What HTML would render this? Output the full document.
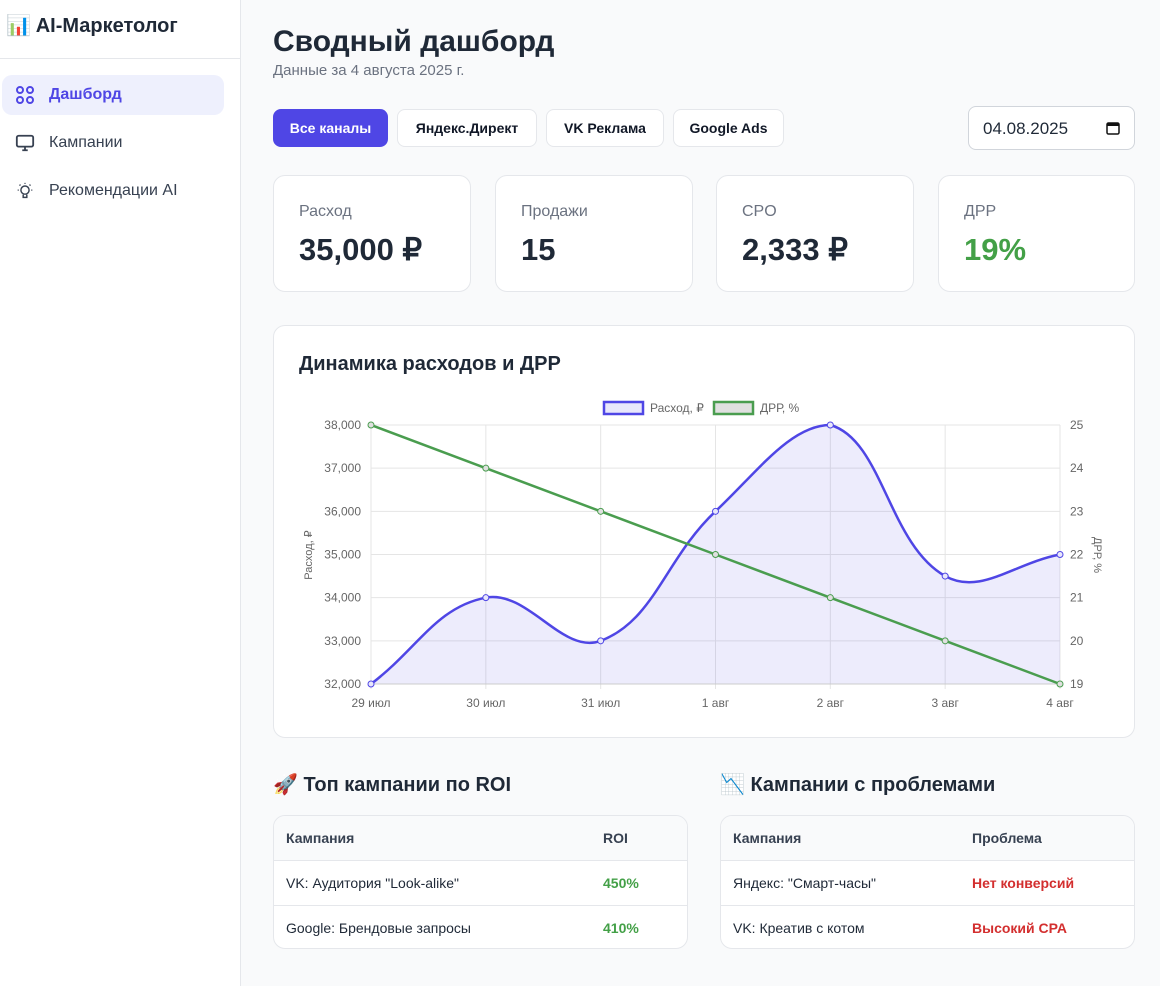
<!DOCTYPE html>
<html><head><meta charset="utf-8">
<style>
*{box-sizing:border-box;margin:0;padding:0}
body{width:1160px;height:986px;font-family:"Liberation Sans","Noto Sans CJK SC",sans-serif;background:#f9fafb;color:#1f2937;position:relative;overflow:hidden}
.sidebar{position:absolute;left:0;top:0;width:241px;height:986px;background:#fff;border-right:1px solid #e5e7eb}
.logo{height:59px;border-bottom:1px solid #e5e7eb;font-weight:bold;font-size:20px;padding:13px 0 0 6px}
.nav{position:absolute;left:2px;width:222px;height:40px;border-radius:10px;font-size:16px;color:#374151;display:flex;align-items:center;padding-left:13px;gap:14px}
.nav.active{background:#eef0fd;color:#4f46e5;font-weight:bold}
.abs{position:absolute}
.btn{position:absolute;top:109px;height:38px;border:1px solid #e5e7eb;border-radius:8px;background:#fff;font-size:14px;font-weight:bold;display:flex;align-items:center;justify-content:center;color:#111827}
.card{position:absolute;background:#fff;border:1px solid #e5e7eb;border-radius:12px}
.kl{position:absolute;left:25px;top:27px;font-size:16px;color:#6b7280}
.kv{position:absolute;left:25px;top:56px;font-size:31px;font-weight:bold;color:#1f2937}
.h2{position:absolute;font-size:20px;font-weight:bold}
table{width:100%;border-collapse:collapse;font-size:14px}
td,th{height:45px;padding-left:12px;text-align:left;border-bottom:1px solid #e5e7eb}
th{background:#f9fafb;color:#374151;font-weight:bold;height:44px}
tr:last-child td{border-bottom:none}
.g{color:#43a047;font-weight:bold}.r{color:#d32f2f;font-weight:bold}
</style></head><body>
<div class="sidebar">
 <div class="logo">📊 AI-Маркетолог</div>
 <div class="nav active" style="top:75px"><svg width="20" height="20" viewBox="0 0 20 20" fill="none" stroke="#4f46e5" stroke-width="2"><circle cx="5" cy="5" r="3"/><circle cx="15" cy="5" r="3"/><circle cx="5" cy="15" r="3"/><circle cx="15" cy="15" r="3"/></svg>Дашборд</div>
 <div class="nav" style="top:123px"><svg width="20" height="20" viewBox="0 0 22 20" fill="none" stroke="#374151" stroke-width="2"><rect x="2" y="2" width="18" height="12" rx="2"/><path d="M8 18h6M11 14v4"/></svg>Кампании</div>
 <div class="nav" style="top:171px"><svg width="20" height="22" viewBox="0 0 22 22" fill="none" stroke="#374151" stroke-width="1.6"><circle cx="11" cy="10" r="4.5"/><path d="M9 15v3h4v-3M11 2v1M3 10h1M18 10h1M5 4l1 1M17 4l-1 1"/></svg>Рекомендации AI</div>
</div>
<div class="abs" style="left:273px;top:25px;font-size:30px;font-weight:bold">Сводный дашборд</div>
<div class="abs" style="left:273px;top:62px;font-size:15px;color:#6b7280">Данные за 4 августа 2025 г.</div>
<div class="btn" style="left:273px;width:115px;background:#4f46e5;color:#fff;border-color:#4f46e5">Все каналы</div>
<div class="btn" style="left:397px;width:140px">Яндекс.Директ</div>
<div class="btn" style="left:546px;width:118px">VK Реклама</div>
<div class="btn" style="left:673px;width:111px">Google Ads</div>
<div class="abs" style="left:968px;top:106px;width:167px;height:44px;border:1px solid #d1d5db;border-radius:8px;background:#fff;font-size:17px;padding:12px 0 0 14px">04.08.2025<svg style="position:absolute;right:14px;top:14px" width="14" height="14" viewBox="0 0 14 14"><rect x="1" y="2" width="12" height="11" rx="1.5" fill="none" stroke="#111" stroke-width="1.5"/><rect x="1" y="2" width="12" height="3" fill="#111"/></svg></div>
<div class="card" style="left:273px;top:175px;width:198px;height:117px"><div class="kl">Расход</div><div class="kv">35,000 ₽</div></div>
<div class="card" style="left:495px;top:175px;width:198px;height:117px"><div class="kl">Продажи</div><div class="kv">15</div></div>
<div class="card" style="left:716px;top:175px;width:198px;height:117px"><div class="kl">CPO</div><div class="kv">2,333 ₽</div></div>
<div class="card" style="left:938px;top:175px;width:197px;height:117px"><div class="kl">ДРР</div><div class="kv" style="color:#43a047">19%</div></div>
<div class="card" style="left:273px;top:325px;width:862px;height:413px">
 <div class="h2" style="left:25px;top:27px">Динамика расходов и ДРР</div>
</div>
<svg class="abs" style="left:0;top:0" width="1160" height="986" id="chart" font-family="Liberation Sans, sans-serif" font-size="12" fill="#666"></svg>
<div class="h2" style="left:273px;top:772px">🚀 Топ кампании по ROI</div>
<div class="h2" style="left:720px;top:772px">📉 Кампании с проблемами</div>
<div class="card" style="left:273px;top:815px;width:415px;height:134px;overflow:hidden"><table>
<tr><th>Кампания</th><th style="width:96px">ROI</th></tr>
<tr><td>VK: Аудитория "Look-alike"</td><td class="g">450%</td></tr>
<tr><td>Google: Брендовые запросы</td><td class="g">410%</td></tr></table></div>
<div class="card" style="left:720px;top:815px;width:415px;height:134px;overflow:hidden"><table>
<tr><th>Кампания</th><th style="width:174px">Проблема</th></tr>
<tr><td>Яндекс: "Смарт-часы"</td><td class="r">Нет конверсий</td></tr>
<tr><td>VK: Креатив с котом</td><td class="r">Высокий CPA</td></tr></table></div>
<script>
const categories=["29 июл","30 июл","31 июл","1 авг","2 авг","3 авг","4 авг"];
const spendValues=[32000,34000,33000,36000,38000,34500,35000];
const drrValues=[25,24,23,22,21,20,19];
const spendTicks=[32000,33000,34000,35000,36000,37000,38000];
const drrTicks=[19,20,21,22,23,24,25];
const L=371,R=1060,T=425,B=684;
const svg=document.getElementById('chart');const NS='http://www.w3.org/2000/svg';
const x=i=>L+(R-L)*i/(categories.length-1);
const yS=v=>B-(v-32000)/(38000-32000)*(B-T);
const yD=v=>B-(v-19)/(25-19)*(B-T);
function el(t,a,p){const e=document.createElementNS(NS,t);for(const k in a)e.setAttribute(k,a[k]);(p||svg).appendChild(e);return e;}
spendTicks.forEach(v=>{const g=el('line',{x1:L,x2:R,y1:yS(v),y2:yS(v),stroke:'#e5e5e5'});
const t=el('text',{x:L-10,y:yS(v)+4,'text-anchor':'end'});t.textContent=v.toLocaleString('en-US');});
drrTicks.forEach(v=>{const t=el('text',{x:R+10,y:yD(v)+4});t.textContent=v;});
categories.forEach((c,i)=>{el('line',{x1:x(i),x2:x(i),y1:T,y2:B+5,stroke:'#e5e5e5'});const t=el('text',{x:x(i),y:B+23,'text-anchor':'middle'});t.textContent=c;});
const a1=el('text',{transform:`translate(312,555) rotate(-90)`,'text-anchor':'middle','font-size':11});a1.textContent='Расход, ₽';
const a2=el('text',{transform:`translate(1094,555) rotate(90)`,'text-anchor':'middle','font-size':11});a2.textContent='ДРР, %';
const pts=spendValues.map((v,i)=>[x(i),yS(v)]);
function cps(){const res=[];const t=0.4;for(let i=0;i<pts.length;i++){const p=pts[Math.max(i-1,0)],c=pts[i],n=pts[Math.min(i+1,pts.length-1)];
const d01=Math.hypot(c[0]-p[0],c[1]-p[1]),d12=Math.hypot(n[0]-c[0],n[1]-c[1]);let fa=d01/(d01+d12)||0,fb=d12/(d01+d12)||0;fa*=t;fb*=t;
res.push({p:[c[0]-fa*(n[0]-p[0]),c[1]-fa*(n[1]-p[1])],n:[c[0]+fb*(n[0]-p[0]),c[1]+fb*(n[1]-p[1])]});}return res;}
const cp=cps();let d=`M${pts[0][0]},${pts[0][1]}`;
for(let i=1;i<pts.length;i++){const a=cp[i-1].n,b=cp[i].p;d+=` C${a[0]},${Math.max(Math.min(a[1],B),T)} ${b[0]},${Math.max(Math.min(b[1],B),T)} ${pts[i][0]},${pts[i][1]}`;}
const area=el('path',{d:d+` L${R},${B} L${L},${B} Z`,fill:'rgba(79,70,229,0.1)'});
el('line',{x1:L,x2:R,y1:B,y2:B,stroke:'#ccc'});
const sl=el('path',{d:d,fill:'none',stroke:'#4f46e5','stroke-width':2.5});
const dl=el('polyline',{points:drrValues.map((v,i)=>x(i)+','+yD(v)).join(' '),fill:'none',stroke:'#4a9d4f','stroke-width':2.5});
pts.forEach(p=>{const c=el('circle',{cx:p[0],cy:p[1],r:3,fill:'#e8e7fb',stroke:'#4f46e5'});});
drrValues.forEach((v,i)=>{const c=el('circle',{cx:x(i),cy:yD(v),r:3,fill:'#e0e0e0',stroke:'#4a9d4f'});});
const l1=el('rect',{x:604,y:402,width:39,height:12,fill:'#e8e7fb',stroke:'#4f46e5','stroke-width':2.5});
const lt1=el('text',{x:650,y:412});lt1.textContent='Расход, ₽';
const l2=el('rect',{x:714,y:402,width:39,height:12,fill:'#e0e0e0',stroke:'#4a9d4f','stroke-width':2.5});
const lt2=el('text',{x:760,y:412});lt2.textContent='ДРР, %';
</script>
</body></html>
